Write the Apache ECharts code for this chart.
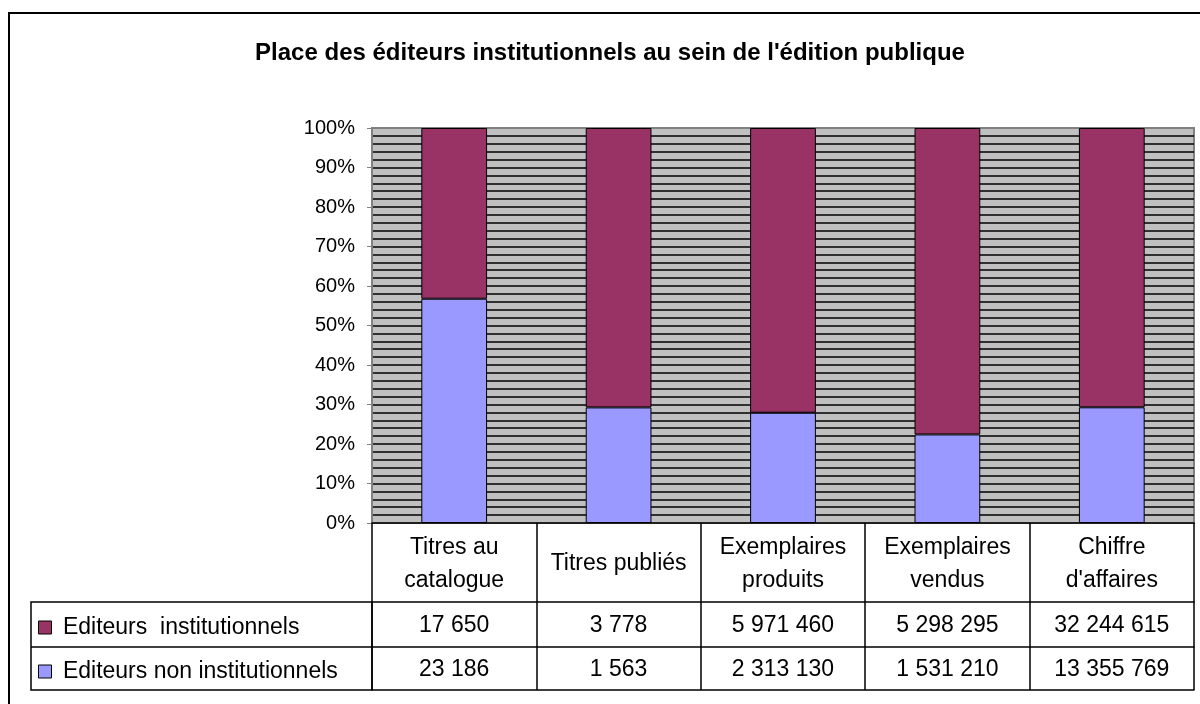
<!DOCTYPE html>
<html>
<head>
<meta charset="utf-8">
<script src="https://cdn.jsdelivr.net/npm/echarts@6/dist/echarts.min.js"></script>
<style>
  html, body { margin: 0; padding: 0; background: #fff; }
  #chart { width: 1200px; height: 704px; }
</style>
</head>
<body>
<div id="chart"></div>
<script>
var titleText = "Place des éditeurs institutionnels au sein de l'édition publique";
var categories = ['Titres au\ncatalogue', 'Titres publiés', 'Exemplaires\nproduits', 'Exemplaires\nvendus', "Chiffre\nd'affaires"];
var seriesNames = ['Editeurs  institutionnels', 'Editeurs non institutionnels'];
var institutionnels = [17650, 3778, 5971460, 5298295, 32244615];
var nonInstitutionnels = [23186, 1563, 2313130, 1531210, 13355769];
var yTicks = [0, 10, 20, 30, 40, 50, 60, 70, 80, 90, 100];

(function () {
  var font = 'Arial, "Liberation Sans", sans-serif';
  var instColor = '#993366';
  var nonColor = '#9999ff';

  // plot area and table rows
  var gridLeft = 372, gridTop = 128, gridRight = 1194, gridBottom = 523;
  var row1 = 79, row2 = 45, row3 = 43;
  var tableLeft = 31;

  function share(part, other) {
    return part.map(function (v, i) { return v / (v + other[i]) * 100; });
  }
  function fmt(n) {
    return String(n).replace(/\B(?=(\d{3})+(?!\d))/g, ' ');
  }

  var pctNon = share(nonInstitutionnels, institutionnels);
  var pctInst = share(institutionnels, nonInstitutionnels);

  var tableAxis = function (offset, tickLen, labelFn) {
    return {
      type: 'category',
      position: 'bottom',
      offset: offset,
      data: categories,
      axisLine: { show: true, lineStyle: { color: '#000', width: 1.5 } },
      axisTick: { show: tickLen > 0, interval: 0, length: tickLen, lineStyle: { color: '#000', width: 1.5 } },
      axisLabel: {
        show: !!labelFn,
        interval: 0,
        margin: tickLen / 2 + 1.5,
        verticalAlign: 'middle',
        color: '#000',
        fontFamily: font,
        fontSize: 23,
        lineHeight: 33,
        formatter: labelFn || ''
      },
      splitLine: { show: false }
    };
  };

  var chart = echarts.init(document.getElementById('chart'), null, { renderer: 'canvas' });
  chart.setOption({
    animation: false,
    grid: {
      left: gridLeft,
      top: gridTop,
      width: gridRight - gridLeft,
      height: gridBottom - gridTop,
      show: true,
      backgroundColor: '#c0c0c0',
      borderColor: '#808080',
      borderWidth: 2
    },
    legend: {
      orient: 'vertical',
      left: 38,
      top: gridBottom + row1 + row2 / 2 - 9,
      padding: 0,
      itemGap: 20,
      itemWidth: 13,
      itemHeight: 13,
      icon: 'rect',
      selectedMode: false,
      data: seriesNames,
      formatter: function (name) { return ' ' + name; },
      itemStyle: { borderColor: '#000', borderWidth: 1 },
      textStyle: { color: '#000', fontFamily: font, fontSize: 23, lineHeight: 24 }
    },
    xAxis: [
      tableAxis(0, row1, function (v) { return v; }),
      tableAxis(row1, row2, function (v, i) { return fmt(institutionnels[i]); }),
      tableAxis(row1 + row2, row3, function (v, i) { return fmt(nonInstitutionnels[i]); }),
      tableAxis(row1 + row2 + row3, 0, null)
    ],
    yAxis: {
      type: 'value',
      min: yTicks[0],
      max: yTicks[yTicks.length - 1],
      interval: yTicks[1] - yTicks[0],
      axisLine: { show: true, lineStyle: { color: '#808080', width: 2 } },
      axisTick: { show: true, length: 5, lineStyle: { color: '#808080', width: 1 } },
      axisLabel: {
        margin: 17,
        color: '#000',
        fontFamily: font,
        fontSize: 20,
        formatter: '{value}%'
      },
      splitLine: { show: true, showMinLine: false, showMaxLine: false, lineStyle: { color: '#000', width: 1.6 } },
      minorTick: { show: false, splitNumber: 5 },
      minorSplitLine: { show: true, lineStyle: { color: '#000', width: 1.6 } }
    },
    series: [
      {
        name: seriesNames[1],
        type: 'bar',
        stack: 'total',
        barWidth: '40%',
        data: pctNon,
        itemStyle: { color: nonColor, borderColor: '#000', borderWidth: 1 }
      },
      {
        name: seriesNames[0],
        type: 'bar',
        stack: 'total',
        barWidth: '40%',
        data: pctInst,
        itemStyle: { color: instColor, borderColor: '#000', borderWidth: 1 }
      }
    ],
    graphic: [
      {
        type: 'rect',
        z: 100,
        shape: { x: 9, y: 13, width: 1400, height: 900 },
        style: { fill: 'none', stroke: '#000', lineWidth: 2 }
      },
      {
        type: 'text',
        z: 100,
        x: 610,
        y: 53,
        style: {
          text: titleText,
          align: 'center',
          verticalAlign: 'middle',
          fill: '#000',
          font: 'bold 24px ' + font
        }
      },
      {
        type: 'rect',
        z: 100,
        shape: { x: tableLeft, y: gridBottom + row1, width: gridLeft - tableLeft, height: row2 + row3 },
        style: { fill: 'none', stroke: '#000', lineWidth: 1.5 }
      },
      {
        type: 'line',
        z: 100,
        shape: { x1: tableLeft, y1: gridBottom + row1 + row2, x2: gridLeft, y2: gridBottom + row1 + row2 },
        style: { stroke: '#000', lineWidth: 1.5 }
      }
    ]
  });
  window.addEventListener('resize', function () { chart.resize(); });
})();
</script>
</body>
</html>
